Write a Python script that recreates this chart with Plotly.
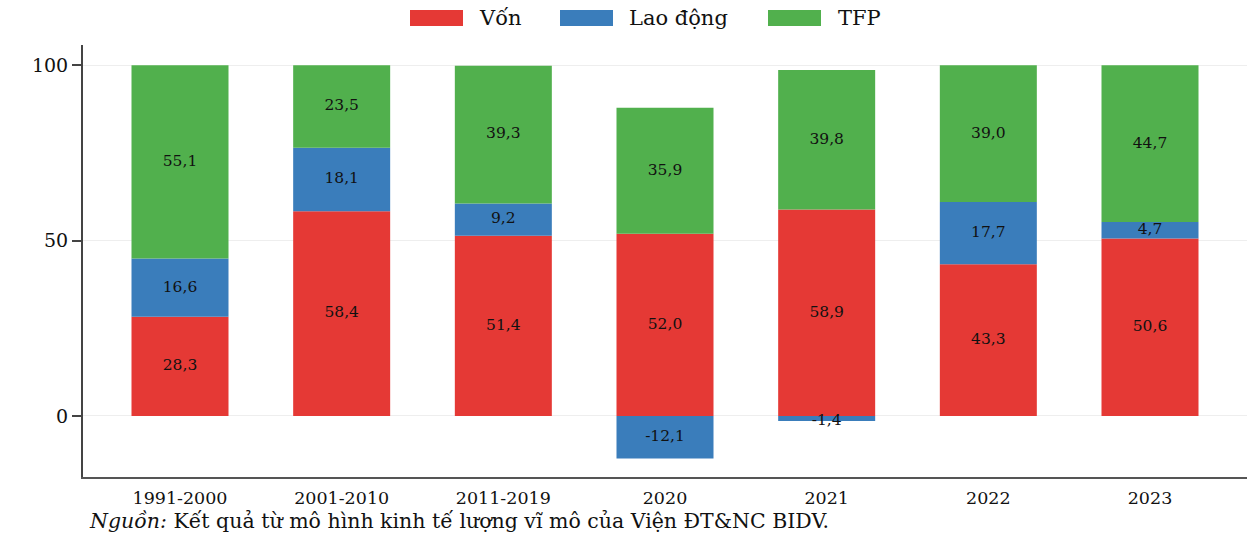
import plotly.graph_objects as go

categories = ["1991-2000", "2001-2010", "2011-2019", "2020", "2021", "2022", "2023"]
von = [28.3, 58.4, 51.4, 52.0, 58.9, 43.3, 50.6]
lao_dong = [16.6, 18.1, 9.2, -12.1, -1.4, 17.7, 4.7]
tfp = [55.1, 23.5, 39.3, 35.9, 39.8, 39.0, 44.7]
series_names = ["Vốn", "Lao động", "TFP"]
colors = ["#e53935", "#3a7dbb", "#51b04d"]
y_ticks = [0, 50, 100]

FONT = "DejaVu Serif"

def fmt(v):
    return f"{v:.1f}".replace(".", ",")

fig = go.Figure()
series = [von, lao_dong, tfp]
for name, vals, col in zip(series_names, series, colors):
    fig.add_trace(go.Bar(x=categories, y=vals, name=name, marker=dict(color=col, line=dict(width=0)),
                         width=0.6, showlegend=False, hoverinfo="x+y+name"))

# label positions computed from stacking (relative mode)
lx, ly, lt = [], [], []
for i, c in enumerate(categories):
    pos, neg = 0.0, 0.0
    for vals in series:
        v = vals[i]
        if v >= 0:
            mid = pos + v / 2
            pos += v
        else:
            mid = neg + v / 2
            neg += v
            if abs(v) < 3:
                mid = neg - 0.2
        lx.append(c); ly.append(mid); lt.append(fmt(v))
fig.add_trace(go.Scatter(x=lx, y=ly, text=lt, mode="text", showlegend=False,
                         textfont=dict(family=FONT, size=15.5, color="#111"), hoverinfo="skip"))

# manual legend
L, R, T, B = 83, 1247, 45, 477
W, H = R - L, B - T
def px(x): return (x - L) / W
def py(y): return (B - y) / H
legend_items = [(410, 477), (560, 627), (768, 836)]
for (bx, tx), name, col in zip(legend_items, series_names, colors):
    fig.add_shape(type="rect", xref="paper", yref="paper", x0=px(bx), x1=px(bx + 53), y0=py(26), y1=py(10),
                  fillcolor=col, line=dict(width=0))
    fig.add_annotation(xref="paper", yref="paper", x=px(tx), y=py(18), text=name, showarrow=False,
                       xanchor="left", yanchor="middle", font=dict(family=FONT, size=21, color="#111"))

fig.add_annotation(xref="paper", yref="paper", x=px(87), y=py(521), xanchor="left", yanchor="middle",
                   showarrow=False, text="<i>Nguồn:</i> Kết quả từ mô hình kinh tế lượng vĩ mô của Viện ĐT&NC BIDV.",
                   font=dict(family=FONT, size=20.5, color="#111"))

fig.update_layout(
    barmode="relative",
    width=1258, height=543,
    margin=dict(l=L, r=1258 - R, t=T, b=543 - B),
    plot_bgcolor="white", paper_bgcolor="white",
    font=dict(family=FONT, size=17, color="#111"),
    xaxis=dict(range=[-0.6, 6.6], showline=True, linecolor="#555", linewidth=2, ticks="",
               tickfont=dict(family=FONT, size=17.5), showgrid=False, ticklabelstandoff=4),
    yaxis=dict(range=[-17.4, 105.8], tickvals=y_ticks, showline=True, linecolor="#444", linewidth=2,
               ticks="outside", ticklen=9, tickwidth=1.5, tickcolor="#444", showgrid=True, gridcolor="#eeeeee",
               zeroline=False, tickfont=dict(family=FONT, size=19)),
)
fig.write_html("out.html", config={"displayModeBar": False},
               post_script="document.body.style.margin='0';document.body.style.overflow='hidden';")
